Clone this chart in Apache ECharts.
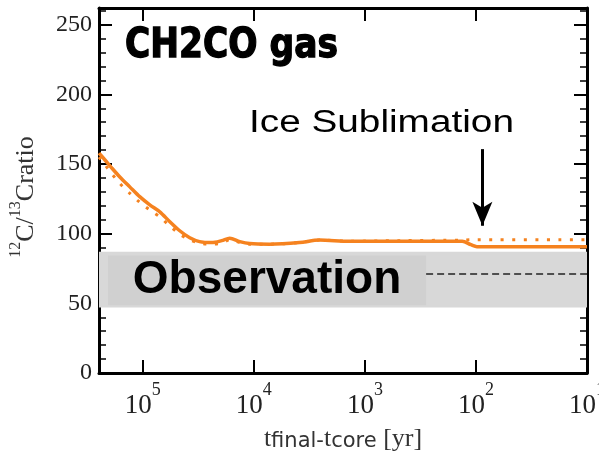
<!DOCTYPE html>
<html><head><meta charset="utf-8">
<script src="https://cdn.jsdelivr.net/npm/echarts@6/dist/echarts.min.js"></script>
<style>html,body{margin:0;padding:0;background:#fff;overflow:hidden}#c{width:599px;height:455px}</style>
</head><body><div id="c"></div>
<script>
// ---- data ----
const timeYr = [248000, 219000, 190000, 161000, 131000, 106000, 86500, 70300, 57100, 46500, 37800, 30800, 24000, 19500, 16500, 13400, 10900, 7230, 3880, 2570, 1380, 491, 133, 111, 98, 10];
const solidRatio = [157.9, 152.9, 147.1, 140.7, 133.6, 126.4, 120.7, 115.7, 108.6, 102.1, 97.1, 94.3, 93.6, 95.0, 96.8, 94.3, 92.9, 92.5, 93.6, 95.4, 94.6, 94.6, 94.5, 92.1, 90.7, 90.7];
const dottedRatio = [155.0, 149.5, 143.0, 136.0, 129.0, 122.4, 117.0, 112.0, 105.5, 99.6, 95.7, 93.2, 92.5, 93.2, 95.7, 93.6, 92.5, 92.5, 93.6, 95.4, 94.6, 95.0, 95.4, 95.7, 95.7, 95.7];
const xMin = 10, xMax = 248000;
const yMin = 0, yMax = 262, yMajor = 50, yMinor = 10;
const obsBand = [47, 87];
const obsBoxX = [206000, 281];
const obsBoxY = [48.6, 84.3];
const obsMean = 71.4;
const arrowX = 87.5, arrowY = [160.7, 105.7];
const titleText = 'CH2CO gas';
const noteText = 'Ice Sublimation';
const obsText = 'Observation';

const ORANGE = '#f5821f';
const serif = "'Liberation Serif', 'Times New Roman', serif";
const sans = "'Liberation Sans', Arial, sans-serif";

function pairs(xs, ys){ return xs.map((x,i)=>[x, ys[i]]); }
function powLabel(v){
  const e = Math.log10(v); const r = Math.round(e);
  if (Math.abs(e - r) > 1e-6) return '';
  return '{b|10}{s|' + r + '}';
}

const chart = echarts.init(document.getElementById('c'), null, {renderer:'canvas', width:599, height:455});
const frameLine = {show:true, onZero:false, lineStyle:{color:'#000', width:3}};
const majorTick = {show:true, inside:true, length:13, lineStyle:{color:'#000', width:2}};
const minorTickS = {show:true, inside:true, length:7, lineStyle:{color:'#000', width:1.5}};

const option = {
  animation:false,
  backgroundColor:'#fff',
  grid:{left:99, right:12, top:8, bottom:82, containLabel:false, outerBoundsMode:'none'},
  graphic:[
    {type:'text', x:125, y:26, scaleX:0.84, z:10,
     style:{text:titleText, fontFamily:"'DejaVu Sans', sans-serif", fontWeight:'bold', fontSize:41,
            fill:'#000', stroke:'#000', lineWidth:1.4, verticalAlign:'top', align:'left'}},
    {type:'text', x:249, y:108, scaleX:1.25, z:10,
     style:{text:noteText, fontFamily:sans, fontSize:31, fill:'#000', verticalAlign:'top', align:'left'}}
  ],
  xAxis:[
    {type:'log', logBase:10, min:xMin, max:xMax, inverse:true, position:'bottom',
     axisLine:frameLine, axisTick:majorTick, splitLine:{show:false}, minorTick:{show:false},
     axisLabel:{formatter:powLabel, margin:8, color:'#222', hideOverlap:false,
       rich:{b:{fontFamily:serif, fontSize:27, lineHeight:38, verticalAlign:'bottom', color:'#222'},
             s:{fontFamily:serif, fontSize:18, lineHeight:18, verticalAlign:'top', color:'#222'}}},
     name:'{t|t}{sub|final}{m|-}{t|t}{sub|core}{t| [yr]}', nameLocation:'middle', nameGap:47,
     nameTextStyle:{rich:{
       t:{fontFamily:serif, fontSize:26, lineHeight:32, verticalAlign:'bottom', color:'#333'},
       sub:{fontFamily:"'DejaVu Sans', sans-serif", fontSize:21, lineHeight:26, verticalAlign:'bottom', color:'#333'},
       m:{fontFamily:"'DejaVu Sans', sans-serif", fontSize:21, lineHeight:31, verticalAlign:'bottom', color:'#333'}}}},
    {type:'log', logBase:10, min:xMin, max:xMax, inverse:true, position:'top',
     axisLine:frameLine, axisTick:majorTick, axisLabel:{show:false}, splitLine:{show:false}}
  ],
  yAxis:[
    {type:'value', min:yMin, max:yMax, interval:yMajor, position:'left',
     axisLine:frameLine, axisTick:majorTick, splitLine:{show:false},
     axisLabel:{fontFamily:serif, fontSize:24, color:'#222', margin:7, showMaxLabel:false, padding:[9,0,0,0]},
     name:'{s|12}{m|C/}{s|13}{m|Cratio}', nameLocation:'middle', nameRotate:90, nameGap:60,
     nameTextStyle:{padding:[0,13,0,0], rich:{
       m:{fontFamily:serif, fontSize:26, lineHeight:31, verticalAlign:'bottom', color:'#333'},
       s:{fontFamily:serif, fontSize:16, lineHeight:16, verticalAlign:'top', color:'#333'}}}},
    {type:'value', min:yMin, max:yMax, interval:yMinor, position:'left',
     axisLine:{show:false}, axisTick:minorTickS, axisLabel:{show:false}, splitLine:{show:false}},
    {type:'value', min:yMin, max:yMax, interval:yMajor, position:'right',
     axisLine:frameLine, axisTick:majorTick, axisLabel:{show:false}, splitLine:{show:false}},
    {type:'value', min:yMin, max:yMax, interval:yMinor, position:'right',
     axisLine:{show:false}, axisTick:minorTickS, axisLabel:{show:false}, splitLine:{show:false}}
  ],
  series:[
    {type:'line', name:'dotted', data:pairs(timeYr, dottedRatio), showSymbol:false, smooth:0.3,
     lineStyle:{color:ORANGE, width:3, type:[3,8.5], cap:'butt'}, z:3,
     markArea:{silent:true, data:[
       [{yAxis:obsBand[0], itemStyle:{color:'#d8d8d8'}}, {yAxis:obsBand[1]}],
       [{coord:[obsBoxX[0], obsBoxY[1]], itemStyle:{color:'#d0d0d0'},
         label:{show:true, position:'inside', formatter:obsText, fontFamily:sans, fontWeight:'bold', fontSize:46, color:'#000'}},
        {coord:[obsBoxX[1], obsBoxY[0]]}]
     ]},
     markLine:{silent:true, symbol:['none','none'], label:{show:false},
       lineStyle:{color:'#222', width:1.6, type:[7,4]},
       data:[[{coord:[obsBoxX[1], obsMean]}, {coord:[xMin, obsMean]}]]}},
    {type:'line', name:'solid', data:pairs(timeYr, solidRatio), showSymbol:false, smooth:0.3,
     lineStyle:{color:ORANGE, width:3.5}, z:4,
     markLine:{silent:true, symbol:['none','arrow'], symbolSize:[15,24], label:{show:false},
       lineStyle:{color:'#000', width:3, type:'solid'},
       data:[[{coord:[arrowX, arrowY[0]]}, {coord:[arrowX, arrowY[1]]}]]}}
  ]
};
chart.setOption(option);
</script></body></html>
